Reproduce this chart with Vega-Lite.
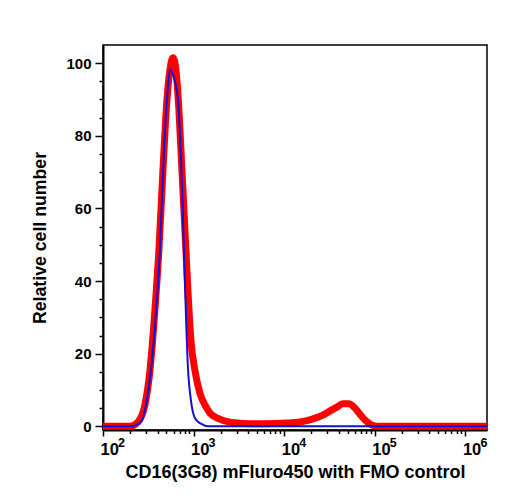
{
  "$schema": "https://vega.github.io/schema/vega-lite/v6.json",
  "autosize": {"type": "none"},
  "padding": {"left": 103, "top": 45, "right": 21, "bottom": 70},
  "width": 384,
  "height": 385,
  "config": {
    "view": {"stroke": "#000000", "strokeWidth": 1.5},
    "axis": {
      "domainColor": "#000000", "domainWidth": 2, "tickColor": "#000000", "tickWidth": 1.5,
      "grid": false, "labelFont": "Liberation Sans", "labelFontWeight": "bold", "labelColor": "#000000",
      "titleFont": "Liberation Sans", "titleFontWeight": "bold", "titleColor": "#000000", "titleFontSize": 18
    }
  },
  "datasets": {
    "cd16": [
      {"x": 100, "y": 0}, {"x": 199, "y": 0}, {"x": 243, "y": 1.2}, {"x": 290, "y": 5.9},
      {"x": 330, "y": 15.5}, {"x": 374, "y": 32}, {"x": 414, "y": 48.6}, {"x": 459, "y": 70.6},
      {"x": 508, "y": 90}, {"x": 548, "y": 98.2}, {"x": 592, "y": 101.5}, {"x": 638, "y": 98.2},
      {"x": 689, "y": 87}, {"x": 743, "y": 70.6}, {"x": 802, "y": 54}, {"x": 865, "y": 37.6},
      {"x": 933, "y": 23.8}, {"x": 1033, "y": 15.5}, {"x": 1172, "y": 9.2}, {"x": 1333, "y": 5.9},
      {"x": 1512, "y": 3.7}, {"x": 1950, "y": 2.0}, {"x": 3000, "y": 0.9}, {"x": 4180, "y": 0.7},
      {"x": 6110, "y": 0.7}, {"x": 10690, "y": 0.9}, {"x": 14870, "y": 1.2}, {"x": 19150, "y": 1.8},
      {"x": 26650, "y": 3.1}, {"x": 31860, "y": 4.2}, {"x": 38050, "y": 5.3}, {"x": 44300, "y": 6.2},
      {"x": 51570, "y": 6.2}, {"x": 60000, "y": 5.1}, {"x": 68200, "y": 3.4}, {"x": 77400, "y": 1.8},
      {"x": 92500, "y": 0.4}, {"x": 113300, "y": 0}, {"x": 1730000, "y": 0}
    ],
    "fmo": [
      {"x": 100, "y": 0}, {"x": 199, "y": 0}, {"x": 256, "y": 0.9}, {"x": 305, "y": 7.3},
      {"x": 356, "y": 21}, {"x": 394, "y": 35}, {"x": 425, "y": 48.6}, {"x": 471, "y": 76},
      {"x": 508, "y": 90}, {"x": 548, "y": 98.2}, {"x": 592, "y": 96.8}, {"x": 671, "y": 90},
      {"x": 743, "y": 67}, {"x": 802, "y": 39.5}, {"x": 865, "y": 16.4}, {"x": 933, "y": 7.3},
      {"x": 1033, "y": 2.3}, {"x": 1172, "y": 0.9}, {"x": 1512, "y": 0}, {"x": 1730000, "y": 0}
    ]
  },
  "layer": [
    {
      "data": {"name": "cd16"},
      "mark": {"type": "line", "color": "#ff0000", "strokeWidth": 7, "interpolate": "monotone", "strokeJoin": "miter", "clip": true},
      "encoding": {
        "x": {
          "field": "x", "type": "quantitative",
          "scale": {"type": "log", "domain": [100, 1730000], "nice": false},
          "axis": {
            "orient": "bottom", "values": [100, 1000, 10000, 100000, 1000000],
            "labelExpr": "datum.value == 100 ? '\u00a0\u00a010' : '10'",
            "labelAlign": "left", "labelOffset": -3, "labelFontSize": 16.5, "labelPadding": 5,
            "tickSize": 6, "labelOverlap": false, "labelFlush": false, "labelBound": false,
            "title": "CD16(3G8) mFluro450 with FMO control", "titlePadding": 6
          }
        },
        "y": {
          "field": "y", "type": "quantitative",
          "scale": {"domain": [-1, 105], "nice": false, "zero": false},
          "axis": {
            "orient": "left", "values": [0, 20, 40, 60, 80, 100], "labelFontSize": 15,
            "tickSize": 8, "labelPadding": 4, "title": "Relative cell number", "titlePadding": 16,
            "titleFontSize": 17.7
          }
        }
      }
    },
    {
      "data": {"name": "fmo"},
      "mark": {"type": "line", "color": "#1010d8", "strokeWidth": 2, "interpolate": "monotone", "clip": true},
      "encoding": {
        "x": {"field": "x", "type": "quantitative", "axis": null},
        "y": {"field": "y", "type": "quantitative", "axis": null}
      }
    },
    {
      "data": {"name": "fmo"},
      "mark": {"type": "line", "strokeOpacity": 0},
      "encoding": {
        "x": {
          "field": "x", "type": "quantitative",
          "axis": {
            "orient": "bottom", "domain": false, "labels": false, "title": null, "tickSize": 3.5,
            "values": [200, 300, 400, 500, 600, 700, 800, 900, 2000, 3000, 4000, 5000, 6000, 7000, 8000, 9000,
                       20000, 30000, 40000, 50000, 60000, 70000, 80000, 90000,
                       200000, 300000, 400000, 500000, 600000, 700000, 800000, 900000]
          }
        },
        "y": {
          "field": "y", "type": "quantitative",
          "axis": {
            "orient": "left", "domain": false, "labels": false, "title": null, "tickSize": 4,
            "values": [5, 10, 15, 25, 30, 35, 45, 50, 55, 65, 70, 75, 85, 90, 95]
          }
        }
      }
    },
    {
      "data": {"name": "fmo"},
      "mark": {"type": "line", "strokeOpacity": 0},
      "encoding": {
        "x": {
          "field": "x", "type": "quantitative",
          "axis": {
            "orient": "bottom", "domain": false, "ticks": false, "tickSize": 0, "title": null,
            "values": [100, 1000, 10000, 100000, 1000000],
            "labelExpr": "datum.value == 100 ? '\u00a0\u00a0\u20092' : format(log(datum.value)/log(10), '.0f')",
            "labelAlign": "left", "labelOffset": 14.5, "labelFontSize": 12.5, "labelPadding": 6,
            "labelOverlap": false, "labelFlush": false, "labelBound": false
          }
        },
        "y": {"field": "y", "type": "quantitative", "axis": null}
      }
    }
  ],
  "resolve": {"axis": {"x": "independent", "y": "independent"}}
}
